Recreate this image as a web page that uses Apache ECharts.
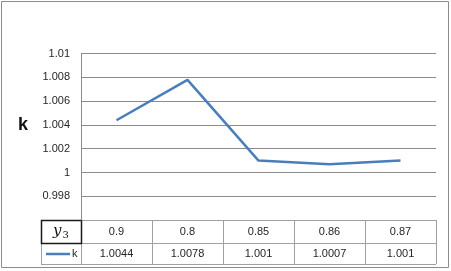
<!DOCTYPE html>
<html><head><meta charset="utf-8">
<script src="https://cdn.jsdelivr.net/npm/echarts@6/dist/echarts.min.js"></script>
<style>html,body{margin:0;padding:0;background:#fff}#c{width:451px;height:271px}</style>
</head><body><div id="c"></div>
<script>
var categories = ['0.9', '0.8', '0.85', '0.86', '0.87'];
var kValues = [1.0044, 1.0078, 1.001, 1.0007, 1.001];
var kLabels = ['1.0044', '1.0078', '1.001', '1.0007', '1.001'];
var seriesName = 'k';

var L = 81, R = 436, T = 53.7, B = 220;
var row1B = 243, row2B = 264, firstColL = 41;
var colW = (R - L) / categories.length;
var FONT = 'Liberation Sans';
var TXT = '#262626';
var lineColor = '#4A7EBB';
var gridC = '#8c8c8c';
var tableC = '#a0a0a0';

var g = [];
g.push({type:'rect', shape:{x:1.5,y:1.5,width:447,height:266}, style:{fill:'none', stroke:'#8c8c8c', lineWidth:1}, silent:true});
[B, row1B, row2B].forEach(function(y){
  g.push({type:'line', shape:{x1:firstColL,y1:y+0.5,x2:R,y2:y+0.5}, style:{stroke:tableC,lineWidth:1}});
});
g.push({type:'line', shape:{x1:firstColL+0.5,y1:B,x2:firstColL+0.5,y2:row2B}, style:{stroke:tableC,lineWidth:1}});
for (var i=0;i<=categories.length;i++){
  var x = Math.round(L + i*colW)+0.5;
  g.push({type:'line', shape:{x1:x,y1:B,x2:x,y2:row2B}, style:{stroke:tableC,lineWidth:1}});
}
g.push({type:'rect', shape:{x:firstColL+0.5,y:B+0.5,width:L-firstColL,height:row1B-B}, style:{fill:'none',stroke:'#1a1a1a',lineWidth:1.5}});
g.push({type:'text', x:(firstColL+L)/2, y:(B+row1B)/2, style:{text:'{i|y}{s|3}', align:'center', verticalAlign:'middle',
  rich:{i:{fontFamily:'DejaVu Serif', fontStyle:'italic', fontSize:15, fill:'#111'}, s:{fontFamily:'DejaVu Serif', fontSize:10, fill:'#111', padding:[7,0,0,1]}}}});
g.push({type:'line', shape:{x1:46,y1:(row1B+row2B)/2+0.5,x2:70,y2:(row1B+row2B)/2+0.5}, style:{stroke:lineColor,lineWidth:2.5}});
g.push({type:'text', x:72, y:(row1B+row2B)/2, style:{text:seriesName, fontFamily:FONT, fontSize:11, fill:TXT, verticalAlign:'middle'}});
categories.forEach(function(c,i){
  var cx = L + (i+0.5)*colW;
  g.push({type:'text', x:cx, y:(B+row1B)/2+0.5, style:{text:c, fontFamily:FONT, fontSize:11, fill:TXT, align:'center', verticalAlign:'middle'}});
  g.push({type:'text', x:cx, y:(row1B+row2B)/2+0.5, style:{text:kLabels[i], fontFamily:FONT, fontSize:11, fill:TXT, align:'center', verticalAlign:'middle'}});
});
g.push({type:'text', x:23, y:125, style:{text:'k', fontFamily:FONT, fontSize:18, fontWeight:'bold', fill:'#111', align:'center', verticalAlign:'middle'}});

var chart = echarts.init(document.getElementById('c'), null, {renderer:'canvas'});
chart.setOption({
  animation:false,
  backgroundColor:'#fff',
  grid:{left:L, right:451-R, top:T, bottom:271-B, containLabel:false},
  xAxis:{type:'category', data:categories, boundaryGap:true,
    axisLine:{show:false}, axisTick:{show:false}, axisLabel:{show:false}, splitLine:{show:false}},
  yAxis:{type:'value', min:0.996, max:1.01, interval:0.002,
    axisLine:{show:true, lineStyle:{color:gridC, width:1}}, axisTick:{show:false},
    axisLabel:{margin:11, fontFamily:FONT, fontSize:11, color:TXT,
      formatter:function(v){ var r = parseFloat(v.toFixed(4)); return r < 0.997 ? '' : String(r); }},
    splitLine:{show:true, lineStyle:{color:gridC, width:1}, showMinLine:false}},
  series:[{type:'line', name:seriesName, data:kValues, symbol:'none',
    lineStyle:{color:lineColor, width:2.5}}],
  graphic:g
});
</script></body></html>
